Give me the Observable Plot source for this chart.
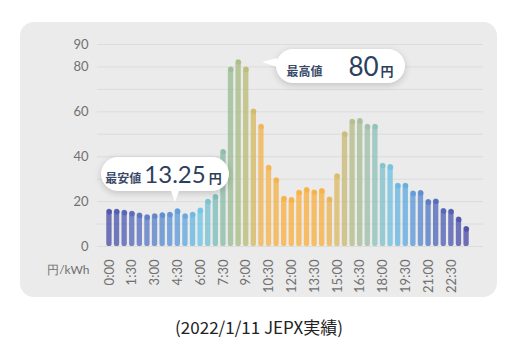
<!DOCTYPE html>
<html><head><meta charset="utf-8">
<script src="https://cdn.jsdelivr.net/npm/d3@7"></script>
<script src="https://cdn.jsdelivr.net/npm/@observablehq/plot@0.6"></script>
<style>
body{margin:0;background:#fff;width:518px;height:352px;position:relative;overflow:hidden;font-family:Lato,"Noto Sans CJK JP",sans-serif;}
#card{position:absolute;left:20px;top:22px;width:477px;height:275px;border-radius:14px;background:#ebebeb;}
#card svg{position:absolute;left:0;top:0;}
.bubble{position:absolute;height:34px;background:#fff;border-radius:17px;box-shadow:0 2px 7px rgba(0,0,0,0.18);display:flex;align-items:baseline;box-sizing:border-box;color:#2d3f5e;}
.bubble .lab{font-family:"Noto Sans CJK JP",sans-serif;font-weight:700;font-size:12px;color:#3a4a68;}
.bubble .num{font-family:Lato,sans-serif;font-size:24px;line-height:34px;}
.bubble .yen{font-family:"Noto Sans CJK JP",sans-serif;font-weight:700;font-size:13px;}
.tri-down{position:absolute;width:0;height:0;border-left:4px solid transparent;border-right:4px solid transparent;border-top:11px solid #fff;}
.tri-left{position:absolute;width:0;height:0;border-top:4px solid transparent;border-bottom:5px solid transparent;border-right:15px solid #fff;}
#caption{position:absolute;left:0;top:314px;width:518px;text-align:center;font-family:"Noto Sans CJK JP",sans-serif;font-size:17px;color:#222;}
</style></head>
<body>
<div id="card"></div>
<div id="caption"></div>
<script>
// ---- data ----
const times = ["0:00","0:30","1:00","1:30","2:00","2:30","3:00","3:30","4:00","4:30","5:00","5:30",
  "6:00","6:30","7:00","7:30","8:00","8:30","9:00","9:30","10:00","10:30","11:00","11:30",
  "12:00","12:30","13:00","13:30","14:00","14:30","15:00","15:30","16:00","16:30","17:00","17:30",
  "18:00","18:30","19:00","19:30","20:00","20:30","21:00","21:30","22:00","22:30","23:00","23:30"];
const prices = [16.6,16.6,16.2,15.7,14.9,14.1,14.6,15.0,15.3,16.8,14.6,15.3,
  17.1,21.1,23.2,43.2,80.0,83.2,80.0,61.3,54.5,36.2,30.6,22.4,
  21.8,25.1,26.3,25.2,25.8,22.1,32.4,51.1,56.7,57.0,54.5,54.5,
  37.1,36.5,28.2,28.2,24.7,25.0,20.9,21.2,16.9,16.6,13.1,8.9];
const xTickLabels = ["0:00","1:30","3:00","4:30","6:00","7:30","9:00","10:30","12:00","13:30","15:00","16:30","18:00","19:30","21:00","22:30"];
const yTickLabels = [0,20,40,60,80,90];
const gridValues = [0,10,20,30,40,50,60,70,80,90];
const unitLabel = "円/kWh";
const lowTime = "4:30", lowTitle = "最安値", lowText = "13.25";
const highTime = "8:30", highTitle = "最高値", highText = "80";
const yen = "円";
const caption = "(2022/1/11 JEPX実績)";

// ---- style ----
const colorStops = [[0,"#4a4fa8"],[5,"#5a78c4"],[9,"#5a9ad8"],[12,"#6cc4e6"],[14,"#7cbcb8"],[16,"#98bc94"],
  [18,"#b8bc74"],[20,"#f0b450"],[23,"#f8b040"],[28,"#f8b040"],[30,"#dcb866"],[32,"#b4bc88"],
  [35,"#90c0b8"],[37,"#70c0e0"],[39,"#5eaae0"],[41,"#5888d0"],[43,"#5068b8"],[47,"#4a4aa8"]];
const col = d3.scaleLinear().domain(colorStops.map(s=>s[0])).range(colorStops.map(s=>s[1])).interpolate(d3.interpolateRgb);

const data = times.map((t,i)=>({t, v: prices[i], c: col(i)}));

const plot = Plot.plot({
  width:477, height:275, marginTop:22, marginBottom:51, marginLeft:84, marginRight:26,
  style:{background:"transparent", fontFamily:"Lato, sans-serif", fontSize:"13px", color:"#707070", overflow:"visible"},
  x:{type:"band", domain:times, padding:0.3, align:0.5, round:false},
  y:{domain:[0,90]},
  color:{type:"identity"},
  marks:[
    Plot.ruleY(gridValues,{stroke:"#dcdcdc", strokeWidth:1, insetLeft:-7, insetRight:-12}),
    Plot.axisY({ticks:yTickLabels, tickSize:0, tickPadding:16, label:null, fontSize:13}),
    Plot.axisX({ticks:xTickLabels, tickSize:0, tickPadding:13, tickRotate:-90, label:null, fontSize:13}),
    Plot.barY(data,{x:"t", y:"v", fill:"c", fillOpacity:0.78, rx:2.6}),
    Plot.dot(data,{x:"t", y:"v", r:2.6, dy:2.6, fill:"c", fillOpacity:0.78}),
    Plot.text([unitLabel],{text:d=>d, frameAnchor:"bottom-left", dx:-15, dy:27, textAnchor:"end", fontSize:12, fill:"#707070"})
  ]
});
const card = document.getElementById("card");
card.appendChild(plot);

const xs = plot.scale("x"), ys = plot.scale("y");
const cxOf = t => xs.apply(t) + xs.bandwidth/2;
const vOf = t => prices[times.indexOf(t)];

// low bubble
{
  const tipX = cxOf(lowTime) - 2, tipY = ys.apply(vOf(lowTime)) - 6.6;
  const b = document.createElement("div");
  b.className = "bubble";
  b.style.left = (tipX - 74) + "px"; b.style.top = (tipY - 44.7) + "px"; b.style.width = "128px";
  b.style.paddingLeft = "4px"; b.style.gap = "3px";
  b.innerHTML = `<span class="lab">${lowTitle}</span><span class="num">${lowText}</span><span class="yen">${yen}</span>`;
  const tri = document.createElement("div");
  tri.className = "tri-down";
  tri.style.left = (tipX - 4) + "px"; tri.style.top = (tipY - 11) + "px";
  card.appendChild(tri); card.appendChild(b);
  tri.style.zIndex = 2; b.style.zIndex = 1;
}
// high bubble
{
  const tipX = cxOf(highTime) + 23.5, tipY = ys.apply(vOf(highTime)) + 2.4;
  const b = document.createElement("div");
  b.className = "bubble";
  b.style.left = (tipX + 14) + "px"; b.style.top = (tipY - 12.7) + "px"; b.style.width = "129px";
  b.style.padding = "0 11px"; b.style.justifyContent = "space-between";
  b.innerHTML = `<span class="lab">${highTitle}</span><span><span class="num" style="font-size:26px">${highText}</span><span class="yen" style="margin-left:2px">${yen}</span></span>`;
  const tri = document.createElement("div");
  tri.className = "tri-left";
  tri.style.left = tipX + "px"; tri.style.top = (tipY - 4) + "px";
  card.appendChild(b); card.appendChild(tri);
}
document.getElementById("caption").textContent = caption;
</script>
</body></html>
